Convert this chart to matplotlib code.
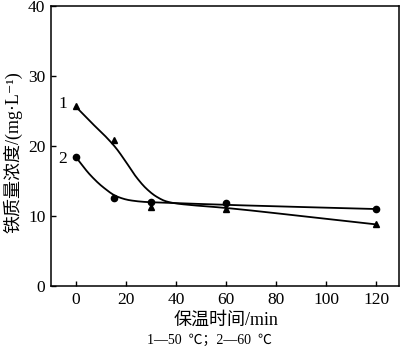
import numpy as np
import matplotlib
matplotlib.use("Agg")
import matplotlib.pyplot as plt

# ---- data ----
time_pts = [0, 15, 30, 60, 120]
s1_vals = [25.7, 20.8, 11.3, 11.0, 8.85]   # curve 1: 50 ℃ (triangles)
s2_vals = [18.4, 12.6, 11.95, 11.9, 11.0]  # curve 2: 60 ℃ (circles)

# fitted curves (knots)
c1_x = [0, 6, 12, 16, 20, 24, 28, 32, 36, 40, 45, 60, 90, 120]
c1_y = [25.6, 23.4, 21.3, 19.7, 17.7, 15.6, 13.95, 12.8, 12.1, 11.8, 11.6, 11.15, 10.0, 8.8]
c2_x = [0, 5.6, 10.9, 16.3, 21.6, 28.3, 36, 60, 120]
c2_y = [18.4, 15.9, 14.1, 12.8, 12.25, 12.0, 11.9, 11.6, 11.0]

x_ticks = [0, 20, 40, 60, 80, 100, 120]
y_ticks = [0, 10, 20, 30, 40]
x_label = "保温时间/min"
y_label = "铁质量浓度/(mg·L⁻¹)"
caption = "1—50  ℃；2—60  ℃"


def pchip(x, y, n=500):
    x = np.asarray(x, float); y = np.asarray(y, float)
    h = np.diff(x); d = np.diff(y) / h
    m = np.zeros_like(y)
    for k in range(1, len(x) - 1):
        if d[k - 1] * d[k] > 0:
            w1 = 2 * h[k] + h[k - 1]; w2 = h[k] + 2 * h[k - 1]
            m[k] = (w1 + w2) / (w1 / d[k - 1] + w2 / d[k])
    m[0] = d[0]; m[-1] = d[-1]
    xs = np.linspace(x[0], x[-1], n)
    idx = np.clip(np.searchsorted(x, xs) - 1, 0, len(h) - 1)
    t = (xs - x[idx]) / h[idx]
    h00 = 2*t**3 - 3*t**2 + 1; h10 = t**3 - 2*t**2 + t
    h01 = -2*t**3 + 3*t**2; h11 = t**3 - t**2
    ys = h00*y[idx] + h10*h[idx]*m[idx] + h01*y[idx+1] + h11*h[idx]*m[idx+1]
    return xs, ys


fams = ['Liberation Serif', 'Noto Sans CJK SC', 'DejaVu Serif']
plt.rcParams['font.family'] = fams

fig = plt.figure(figsize=(4.0, 3.52), dpi=100)
ax = fig.add_axes([0.1275, 0.1875, 0.87, 0.795])

xs, ys = pchip(c1_x, c1_y)
ax.plot(xs, ys, color='black', lw=1.3)
xs, ys = pchip(c2_x, c2_y)
ax.plot(xs, ys, color='black', lw=1.3)
ax.plot(time_pts, s1_vals, linestyle='none', marker='^', color='black', ms=4.5)
ax.plot(time_pts, s2_vals, linestyle='none', marker='o', color='black', ms=4.5)

ax.text(-3.5, s1_vals[0] + 0.3, "1", fontsize=12.5, ha='right', va='center')
ax.text(-3.5, s2_vals[0] - 0.2, "2", fontsize=12.5, ha='right', va='center')

ax.set_xlim(-10, 129)
ax.set_ylim(0, 40)
ax.set_xticks(x_ticks)
ax.set_yticks(y_ticks)
ax.tick_params(direction='in', length=3.5, width=1, labelsize=12.5,
               top=False, right=False, pad=4)
for sp in ax.spines.values():
    sp.set_linewidth(1.1)

fig.text(0.565, 0.089, x_label, fontsize=13, ha='center', va='center')
fig.text(0.031, 0.568, y_label, fontsize=13, ha='center', va='center',
         rotation=90)
fig.text(0.5225, 0.032, caption, fontsize=10, ha='center', va='center')

fig.savefig("out.png", dpi=100)
